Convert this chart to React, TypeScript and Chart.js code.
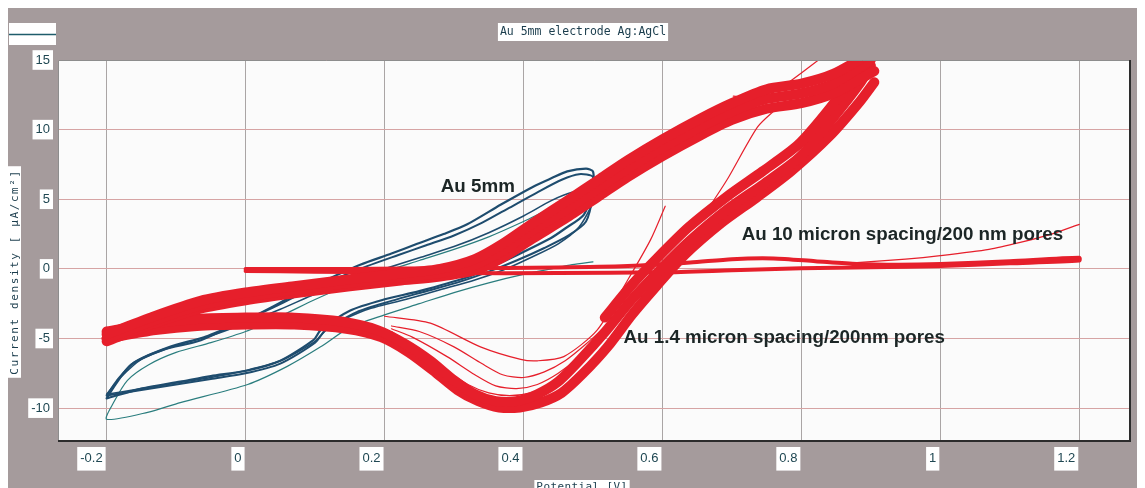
import React, { useEffect, useRef } from "react";
import { Chart, registerables } from "chart.js";

Chart.register(...registerables);

// ---------- text ----------
const TITLE = "Au 5mm electrode Ag:AgCl";
const X_TITLE = "Potential [V]";
const Y_TITLE = "Current density [ µA/cm²]";

// ---------- axes ----------
const X_MIN = -0.27;
const X_MAX = 1.273;
const Y_MIN = -12.36;
const Y_MAX = 15;
const xTicks = [-0.2, 0, 0.2, 0.4, 0.6, 0.8, 1, 1.2];
const xTickLabels = ["-0.2", "0", "0.2", "0.4", "0.6", "0.8", "1", "1.2"];
const yTicks = [-10, -5, 0, 5, 10, 15];
const yTickLabels = ["-10", "-5", "0", "5", "10", "15"];

// ---------- series: Au 5mm (potential V, current density µA/cm²) ----------
const au5mmCycle1: [number, number][] = [
  [-0.2, -9.3], [-0.19, -8.5], [-0.165, -6.9], [-0.118, -5.8], [-0.069, -5.2], [-0.032, -4.4],
  [0.02, -3.2], [0.07, -1.9], [0.12, -0.7], [0.165, 0.3], [0.21, 1.1], [0.247, 1.8], [0.285, 2.5],
  [0.319, 3.2], [0.367, 4.6], [0.414, 5.9], [0.44, 6.5], [0.463, 7.0], [0.49, 7.2], [0.5, 7.0],
  [0.5, 5.8], [0.487, 3.9], [0.46, 2.9], [0.439, 2.2], [0.391, 1.0], [0.352, 0.1], [0.319, -0.6],
  [0.25, -1.6], [0.199, -2.2], [0.15, -3.0], [0.108, -4.4], [0.098, -5.1], [0.05, -6.6],
  [0.003, -7.3], [-0.05, -7.7], [-0.094, -8.1], [-0.15, -8.6], [-0.2, -9.3],
];
const au5mmCycle2: [number, number][] = [
  [-0.2, -9.1], [-0.185, -8.0], [-0.16, -6.7], [-0.11, -5.6], [-0.06, -4.9], [-0.02, -4.1],
  [0.03, -3.0], [0.08, -1.8], [0.13, -0.7], [0.175, 0.2], [0.22, 1.0], [0.26, 1.7], [0.3, 2.4],
  [0.34, 3.3], [0.38, 4.4], [0.42, 5.5], [0.455, 6.4], [0.48, 6.8], [0.5, 6.6],
  [0.5, 5.3], [0.49, 3.4], [0.465, 2.4], [0.43, 1.5], [0.39, 0.6], [0.35, -0.2], [0.31, -0.9],
  [0.26, -1.6], [0.21, -2.3], [0.16, -3.1], [0.115, -4.4], [0.1, -5.3], [0.05, -6.8], [0.0, -7.5],
  [-0.05, -7.9], [-0.1, -8.3], [-0.15, -8.7], [-0.2, -9.1],
];
const au5mmCycle3: [number, number][] = [
  [-0.2, -9.0], [-0.18, -7.8], [-0.15, -6.5], [-0.1, -5.5], [-0.05, -4.8], [0.0, -3.9],
  [0.05, -2.9], [0.1, -1.8], [0.15, -0.8], [0.2, 0.0], [0.25, 0.8], [0.3, 1.6], [0.35, 2.6],
  [0.4, 3.8], [0.44, 4.9], [0.47, 5.5], [0.5, 5.6],
  [0.5, 4.8], [0.48, 3.0], [0.45, 1.8], [0.41, 0.8], [0.37, -0.1], [0.33, -0.8], [0.28, -1.5],
  [0.23, -2.2], [0.17, -3.0], [0.12, -4.2], [0.1, -5.2], [0.05, -6.6], [0.0, -7.3], [-0.05, -7.8],
  [-0.1, -8.2], [-0.15, -8.6], [-0.2, -9.0],
];
const au5mmFirstCycle: [number, number][] = [
  [0.5, 0.5], [0.47, 0.3], [0.44, 0.0], [0.4, -0.4], [0.35, -1.0], [0.3, -1.7], [0.25, -2.5],
  [0.2, -3.3], [0.15, -4.2], [0.108, -5.6], [0.06, -7.0], [0.003, -8.3], [-0.094, -9.6],
  [-0.141, -10.3], [-0.2, -10.8], [-0.19, -9.6], [-0.17, -8.0], [-0.14, -6.9], [-0.1, -6.0],
  [-0.05, -5.3], [0.0, -4.5], [0.05, -3.4], [0.1, -2.2], [0.15, -1.1], [0.2, -0.2], [0.25, 0.6],
  [0.3, 1.4], [0.35, 2.3], [0.4, 3.4], [0.45, 4.6], [0.5, 5.4],
];

// ---------- series: Au 1.4 micron spacing / 200 nm pores ----------
// forward (anodic) sweep band
const au14FwdUpper: [number, number][] = [
  [-0.2, -4.7], [-0.137, -3.5], [-0.065, -2.3], [0.0, -1.7], [0.07, -1.25], [0.15, -0.75], [0.22, -0.35],
  [0.28, 0.0], [0.33, 0.7], [0.37, 1.8], [0.414, 3.3], [0.463, 4.9], [0.511, 6.5], [0.55, 7.8],
  [0.6, 9.3], [0.655, 10.8], [0.7, 11.9], [0.75, 12.9], [0.8, 13.3], [0.846, 14.0], [0.9, 15.5],
];
const au14FwdMid: [number, number][] = [
  [-0.2, -5.0], [-0.137, -3.8], [-0.065, -2.6], [0.0, -2.0], [0.07, -1.5], [0.15, -1.0], [0.22, -0.6],
  [0.28, -0.3], [0.33, 0.3], [0.37, 1.3], [0.414, 2.8], [0.463, 4.3], [0.511, 5.9], [0.55, 7.2],
  [0.6, 8.7], [0.655, 10.2], [0.7, 11.3], [0.75, 12.2], [0.8, 12.6], [0.846, 13.3], [0.9, 15.0],
];
const au14FwdLower: [number, number][] = [
  [-0.2, -5.2], [-0.137, -4.0], [-0.065, -2.85], [0.0, -2.25], [0.07, -1.75], [0.15, -1.25], [0.22, -0.85],
  [0.28, -0.55], [0.33, -0.1], [0.37, 0.8], [0.414, 2.2], [0.463, 3.7], [0.511, 5.3], [0.55, 6.6],
  [0.6, 8.1], [0.655, 9.6], [0.7, 10.7], [0.75, 11.5], [0.8, 11.9], [0.846, 12.6], [0.905, 14.2],
];
// reverse (cathodic) sweep band
const au14RevUpper: [number, number][] = [
  [0.895, 15.5], [0.88, 14.2], [0.842, 11.6], [0.795, 8.9], [0.744, 7.0], [0.693, 5.2], [0.638, 3.0],
  [0.593, 0.8], [0.555, -1.2], [0.517, -3.5],
];
const au14RevMid: [number, number][] = [
  [0.9, 14.6], [0.884, 13.3], [0.845, 10.8], [0.797, 8.0], [0.746, 6.1], [0.694, 4.3], [0.639, 2.0],
  [0.594, -0.2], [0.556, -2.2], [0.518, -4.5], [0.482, -6.5], [0.45, -8.1], [0.42, -9.0], [0.39, -9.5],
  [0.36, -9.5], [0.33, -9.0], [0.3, -8.0], [0.266, -6.6], [0.23, -5.4], [0.19, -4.4], [0.14, -3.8],
  [0.07, -3.5], [0.0, -3.5], [-0.07, -3.6], [-0.13, -3.9], [-0.2, -4.5],
];
const au14RevLower: [number, number][] = [
  [0.905, 13.4], [0.884, 12.0], [0.84, 9.5], [0.785, 7.0], [0.735, 5.1], [0.685, 3.3], [0.632, 1.0],
  [0.592, -1.2], [0.556, -3.3], [0.521, -5.6], [0.486, -7.5], [0.455, -8.9], [0.425, -9.6], [0.395, -9.95],
  [0.365, -9.95], [0.335, -9.5], [0.305, -8.7], [0.27, -7.3], [0.235, -6.0], [0.195, -4.9], [0.145, -4.3],
  [0.07, -4.0], [0.0, -4.0], [-0.07, -4.1], [-0.13, -4.4], [-0.2, -5.0],
];
// individual cycles fanning out above the reduction peak
const au14Fan1: [number, number][] = [
  [0.525, -3.8], [0.49, -5.4], [0.46, -6.6], [0.43, -7.4], [0.4, -7.8], [0.37, -7.6], [0.34, -6.8],
  [0.3, -5.6], [0.25, -4.5], [0.21, -4.1],
];
const au14Fan2: [number, number][] = [
  [0.52, -4.2], [0.48, -6.3], [0.45, -7.5], [0.42, -8.3], [0.39, -8.6], [0.36, -8.4], [0.33, -7.6],
  [0.29, -6.3], [0.24, -4.9], [0.21, -4.3],
];
const au14Fan3: [number, number][] = [
  [0.515, -4.6], [0.47, -7.1], [0.44, -8.3], [0.41, -8.9], [0.38, -9.1], [0.35, -8.9], [0.32, -8.3],
  [0.28, -7.0], [0.24, -5.5], [0.21, -4.5],
];
const au14FirstSweep: [number, number][] = [
  [0.604, 4.5], [0.583, 2.1], [0.55, -0.8], [0.506, -4.4], [0.458, -6.3], [0.42, -6.6], [0.396, -6.5],
  [0.338, -5.6], [0.266, -3.9], [0.2, -3.4],
];
const au14ReturnOutlier: [number, number][] = [
  [0.83, 15.2], [0.77, 13.0], [0.735, 12.3], [0.702, 12.4],
];
const au14ReturnThin: [number, number][] = [
  [0.766, 11.6], [0.737, 10.2], [0.693, 6.4], [0.655, 3.5],
];

// ---------- series: Au 10 micron spacing / 200 nm pores ----------
const au10Loop: [number, number][] = [
  [0.0, -0.15], [0.1, -0.2], [0.2, -0.25], [0.3, -0.3], [0.45, -0.3], [0.6, -0.25], [0.7, -0.1],
  [0.8, 0.05], [0.9, 0.12], [1.0, 0.2], [1.1, 0.4], [1.2, 0.6],
  [1.2, 0.8], [1.1, 0.55], [1.0, 0.35], [0.94, 0.3], [0.88, 0.35], [0.82, 0.55], [0.76, 0.75],
  [0.7, 0.7], [0.64, 0.45], [0.55, 0.2], [0.45, 0.1], [0.3, 0.05], [0.15, 0.0], [0.0, 0.0],
];
const au10Tail: [number, number][] = [
  [0.88, 0.45], [0.95, 0.7], [1.0, 0.95], [1.07, 1.4], [1.115, 1.9], [1.16, 2.5], [1.2, 3.2],
];

// ---------- annotation labels (text + anchor in data units) ----------
const labelTexts = ["Au 5mm", "Au 10 micron spacing/200 nm pores", "Au 1.4 micron spacing/200nm pores"];
const labelX = [0.281, 0.714, 0.544];
const labelY = [5.9, 2.45, -4.96];

const RED = "#e61f2b";
const NAVY = "#1e4c6e";
const TEAL = "#2a7d7e";
const GREY = "#a59b9c";
const TEXT_DARK = "#1f4752";

const toXY = (arr: [number, number][]) => arr.map(([x, y]) => ({ x, y }));

const decor = {
  id: "decor",
  beforeDraw(chart: any) {
    const { ctx, width, height, chartArea: a } = chart;
    ctx.save();
    ctx.fillStyle = GREY;
    ctx.fillRect(0, 0, width, height);
    ctx.fillStyle = "#fbfbfb";
    ctx.fillRect(a.left, a.top, a.right - a.left, a.bottom - a.top);

    // legend stub
    ctx.fillStyle = "#ffffff";
    ctx.fillRect(1, 15, 47, 22);
    ctx.strokeStyle = "#1f5d6b";
    ctx.lineWidth = 1.5;
    ctx.beginPath();
    ctx.moveTo(1, 26.5);
    ctx.lineTo(48, 26.5);
    ctx.stroke();

    // title
    ctx.font = '11.5px "DejaVu Sans Mono", monospace';
    const tw = ctx.measureText(TITLE).width;
    const tcx = 575;
    ctx.fillStyle = "#ffffff";
    ctx.fillRect(tcx - tw / 2 - 2, 15, tw + 4, 18);
    ctx.fillStyle = "#1b3d4d";
    ctx.textAlign = "center";
    ctx.textBaseline = "middle";
    ctx.fillText(TITLE, tcx, 24.5);

    // y title
    ctx.save();
    ctx.translate(6.5, 264);
    ctx.rotate(-Math.PI / 2);
    ctx.font = '11px "DejaVu Sans Mono", monospace';
    (ctx as any).letterSpacing = "1.6px";
    const yw = ctx.measureText(Y_TITLE).width;
    ctx.fillStyle = "#ffffff";
    ctx.fillRect(-yw / 2 - 3, -6.5, yw + 6, 13);
    ctx.fillStyle = "#1b3d4d";
    ctx.textAlign = "center";
    ctx.textBaseline = "middle";
    ctx.fillText(Y_TITLE, 0, 0.5);
    ctx.restore();

    // x title
    ctx.font = '11px "DejaVu Sans Mono", monospace';
    (ctx as any).letterSpacing = "0.4px";
    const xw = ctx.measureText(X_TITLE).width;
    const xcx = 574;
    ctx.fillStyle = "#ffffff";
    ctx.fillRect(xcx - xw / 2 - 2, 472, xw + 4, 12);
    ctx.fillStyle = "#1b3d4d";
    ctx.textAlign = "center";
    ctx.textBaseline = "top";
    ctx.fillText(X_TITLE, xcx, 474);
    ctx.restore();
  },
  afterDatasetsDraw(chart: any) {
    const { ctx, chartArea: a, scales } = chart;
    ctx.save();
    ctx.font = 'bold 18.8px "Liberation Sans", Arial, sans-serif';
    ctx.fillStyle = "#1c2626";
    ctx.textAlign = "left";
    ctx.textBaseline = "middle";
    labelTexts.forEach((t, i) => {
      ctx.fillText(t, scales.x.getPixelForValue(labelX[i]), scales.y.getPixelForValue(labelY[i]));
    });
    // frame
    ctx.strokeStyle = "#8d8d8d";
    ctx.lineWidth = 1;
    ctx.beginPath();
    ctx.moveTo(a.left + 0.5, a.bottom);
    ctx.lineTo(a.left + 0.5, a.top + 0.5);
    ctx.lineTo(a.right, a.top + 0.5);
    ctx.stroke();
    ctx.strokeStyle = "#2c2c2c";
    ctx.lineWidth = 2;
    ctx.beginPath();
    ctx.moveTo(a.left, a.bottom);
    ctx.lineTo(a.right, a.bottom);
    ctx.lineTo(a.right, a.top);
    ctx.stroke();
    ctx.restore();
  },
};

export default function App() {
  const ref = useRef<HTMLCanvasElement | null>(null);
  useEffect(() => {
    if (!ref.current) return;
    const line = (data: [number, number][], color: string, w: number) => ({
      data: toXY(data),
      borderColor: color,
      backgroundColor: color,
      borderWidth: w,
      showLine: true,
      pointRadius: 0,
      tension: 0.25,
      fill: false,
      borderJoinStyle: "round" as const,
      borderCapStyle: "round" as const,
    });
    const chart = new Chart(ref.current, {
      type: "scatter",
      data: {
        datasets: [
          line(au14FwdUpper, RED, 10),
          line(au14FwdMid, RED, 10),
          line(au14FwdLower, RED, 10),
          line(au14RevUpper, RED, 10),
          line(au14RevMid, RED, 10),
          line(au14RevLower, RED, 10),
          line(au14Fan1, RED, 1.2),
          line(au14Fan2, RED, 1.2),
          line(au14Fan3, RED, 1.2),
          line(au14FirstSweep, RED, 1.2),
          line(au14ReturnOutlier, RED, 1.2),
          line(au14ReturnThin, RED, 1.2),
          line(au10Loop, RED, 4),
          line(au10Tail, RED, 1.2),
          line(au5mmCycle1, NAVY, 2.2),
          line(au5mmCycle2, NAVY, 2),
          line(au5mmCycle3, NAVY, 1.6),
          line(au5mmFirstCycle, TEAL, 1.2),
        ],
      },
      options: {
        animation: false,
        responsive: true,
        maintainAspectRatio: false,
        layout: { padding: { left: 8, top: 52, right: 15, bottom: 0 } },
        plugins: { legend: { display: false }, title: { display: false }, tooltip: { enabled: false } },
        scales: {
          x: {
            type: "linear",
            min: X_MIN,
            max: X_MAX,
            afterBuildTicks: (s: any) => {
              s.ticks = xTicks.map((v) => ({ value: v }));
            },
            afterFit: (s: any) => {
              s.height = 47;
            },
            border: { display: false },
            grid: { color: "#aaa5a5", lineWidth: 1, drawTicks: false },
            ticks: {
              callback: (_v: any, i: number) => xTickLabels[i],
              align: "end",
              labelOffset: -4,
              padding: 10,
              color: TEXT_DARK,
              font: { family: '"Liberation Sans", Arial, sans-serif', size: 13 },
              showLabelBackdrop: true,
              backdropColor: "#ffffff",
              backdropPadding: { x: 3, y: 4 },
              maxRotation: 0,
              autoSkip: false,
            } as any,
          },
          y: {
            type: "linear",
            min: Y_MIN,
            max: Y_MAX,
            afterBuildTicks: (s: any) => {
              s.ticks = yTicks.map((v) => ({ value: v }));
            },
            afterFit: (s: any) => {
              s.width = 42;
            },
            border: { display: false },
            grid: { color: "#d6a4a4", lineWidth: 1, drawTicks: false },
            ticks: {
              callback: (_v: any, i: number) => yTickLabels[i],
              padding: 8,
              color: TEXT_DARK,
              font: { family: '"Liberation Sans", Arial, sans-serif', size: 13 },
              showLabelBackdrop: true,
              backdropColor: "#ffffff",
              backdropPadding: { x: 3, y: 2 },
              autoSkip: false,
            } as any,
          },
        },
      },
      plugins: [decor],
    });
    return () => chart.destroy();
  }, []);
  return (
    <div style={{ width: 1137, height: 480, position: "relative" }}>
      <canvas ref={ref} />
    </div>
  );
}
